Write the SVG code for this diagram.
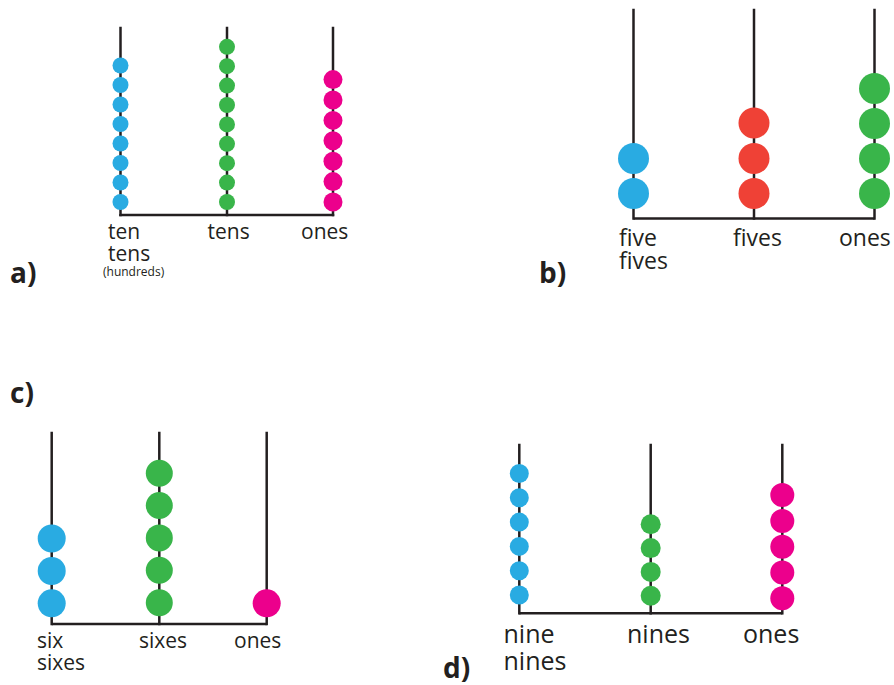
<svg xmlns="http://www.w3.org/2000/svg" width="894" height="685" viewBox="0 0 894 685">
  <style>
    .rod { stroke: #231f20; stroke-width: 2.5; fill: none; stroke-linecap: square; }
    .base { stroke: #231f20; stroke-width: 2.5; fill: none; }
    .blue { fill: #29abe2; }
    .green { fill: #39b54a; }
    .pink { fill: #ec008c; }
    .red { fill: #ef4136; }
    .lbl { font-family: "Open Sans", "Liberation Sans", sans-serif; fill: #231f20; }
    .tag { font-family: "Open Sans", "Liberation Sans", sans-serif; font-weight: bold; font-size: 28px; fill: #231f20; }
  </style>
  <rect width="894" height="685" fill="#ffffff"/>

  <!-- Panel a: ten tens / tens / ones -->
  <g id="panel-a">
    <g id="connectors-a">
      <polyline class="base" points="120.5,214 120.5,215 333,215 333,214"/>
    </g>
    <g id="a-tentens">
      <line class="rod" x1="120.5" y1="28" x2="120.5" y2="215"/>
      <g class="blue">
        <circle cx="120.5" cy="202" r="8"/><circle cx="120.5" cy="182.5" r="8"/>
        <circle cx="120.5" cy="163" r="8"/><circle cx="120.5" cy="143.5" r="8"/>
        <circle cx="120.5" cy="124" r="8"/><circle cx="120.5" cy="104.5" r="8"/>
        <circle cx="120.5" cy="85" r="8"/><circle cx="120.5" cy="65.5" r="8"/>
      </g>
      <text class="lbl" x="108" y="239" font-size="21">ten</text>
      <text class="lbl" x="108" y="261" font-size="21">tens</text>
      <text class="lbl" x="103" y="276" font-size="12">(hundreds)</text>
    </g>
    <g id="a-tens">
      <line class="rod" x1="227" y1="28" x2="227" y2="215"/>
      <g class="green">
        <circle cx="227" cy="202" r="8"/><circle cx="227" cy="182.6" r="8"/>
        <circle cx="227" cy="163.2" r="8"/><circle cx="227" cy="143.8" r="8"/>
        <circle cx="227" cy="124.4" r="8"/><circle cx="227" cy="105" r="8"/>
        <circle cx="227" cy="85.6" r="8"/><circle cx="227" cy="66.2" r="8"/>
        <circle cx="227" cy="46.8" r="8"/>
      </g>
      <text class="lbl" x="207.5" y="239" font-size="21">tens</text>
    </g>
    <g id="a-ones">
      <line class="rod" x1="333" y1="28" x2="333" y2="215"/>
      <g class="pink">
        <circle cx="333" cy="202" r="9.5"/><circle cx="333" cy="181.6" r="9.5"/>
        <circle cx="333" cy="161.2" r="9.5"/><circle cx="333" cy="140.8" r="9.5"/>
        <circle cx="333" cy="120.4" r="9.5"/><circle cx="333" cy="100" r="9.5"/>
        <circle cx="333" cy="79.6" r="9.5"/>
      </g>
      <text class="lbl" x="301" y="239" font-size="21">ones</text>
    </g>
    <text class="tag" x="10" y="283">a)</text>
  </g>

  <!-- Panel b: five fives / fives / ones -->
  <g id="panel-b">
    <g id="connectors-b">
      <polyline class="base" points="633.5,218.5 874.5,218.5"/>
    </g>
    <g id="b-fivefives">
      <line class="rod" x1="633.5" y1="10" x2="633.5" y2="218.5"/>
      <g class="blue">
        <circle cx="633.5" cy="193.5" r="15.5"/><circle cx="633.5" cy="158.5" r="15.5"/>
      </g>
      <text class="lbl" x="619" y="245.5" font-size="23">five</text>
      <text class="lbl" x="619" y="269" font-size="23">fives</text>
    </g>
    <g id="b-fives">
      <line class="rod" x1="754" y1="10" x2="754" y2="218.5"/>
      <g class="red">
        <circle cx="754" cy="193.5" r="15.5"/><circle cx="754" cy="158.5" r="15.5"/>
        <circle cx="754" cy="123" r="15.5"/>
      </g>
      <text class="lbl" x="733" y="245.5" font-size="23">fives</text>
    </g>
    <g id="b-ones">
      <line class="rod" x1="874.5" y1="10" x2="874.5" y2="218.5"/>
      <g class="green">
        <circle cx="874.5" cy="193.5" r="15.5"/><circle cx="874.5" cy="158.5" r="15.5"/>
        <circle cx="874.5" cy="123.5" r="15.5"/><circle cx="874.5" cy="88.5" r="15.5"/>
      </g>
      <text class="lbl" x="839" y="245.5" font-size="23">ones</text>
    </g>
    <text class="tag" x="539" y="283">b)</text>
  </g>

  <!-- Panel c: six sixes / sixes / ones -->
  <g id="panel-c">
    <g id="connectors-c">
      <polyline class="base" points="51.7,624 266.7,624"/>
    </g>
    <g id="c-sixsixes">
      <line class="rod" x1="51.7" y1="433" x2="51.7" y2="624"/>
      <g class="blue">
        <circle cx="51.7" cy="603.3" r="14"/><circle cx="51.7" cy="571" r="14"/>
        <circle cx="51.7" cy="538.5" r="14"/>
      </g>
      <text class="lbl" x="37" y="648.3" font-size="21">six</text>
      <text class="lbl" x="37" y="670" font-size="21">sixes</text>
    </g>
    <g id="c-sixes">
      <line class="rod" x1="159.3" y1="433" x2="159.3" y2="624"/>
      <g class="green">
        <circle cx="159.3" cy="602.7" r="13.5"/><circle cx="159.3" cy="570.3" r="13.5"/>
        <circle cx="159.3" cy="537.9" r="13.5"/><circle cx="159.3" cy="505.5" r="13.5"/>
        <circle cx="159.3" cy="473.3" r="13.5"/>
      </g>
      <text class="lbl" x="139" y="648.3" font-size="21">sixes</text>
    </g>
    <g id="c-ones">
      <line class="rod" x1="266.7" y1="433" x2="266.7" y2="624"/>
      <circle class="pink" cx="266.7" cy="603.3" r="14"/>
      <text class="lbl" x="234" y="648.3" font-size="21">ones</text>
    </g>
    <text class="tag" x="10" y="403">c)</text>
  </g>

  <!-- Panel d: nine nines / nines / ones -->
  <g id="panel-d">
    <g id="connectors-d">
      <polyline class="base" points="519.3,613.3 782.3,613.3"/>
    </g>
    <g id="d-ninenines">
      <line class="rod" x1="519.3" y1="445" x2="519.3" y2="613.3"/>
      <g class="blue">
        <circle cx="519.3" cy="595" r="9.5"/><circle cx="519.3" cy="570.7" r="9.5"/>
        <circle cx="519.3" cy="546.4" r="9.5"/><circle cx="519.3" cy="522.1" r="9.5"/>
        <circle cx="519.3" cy="497.8" r="9.5"/><circle cx="519.3" cy="473.5" r="9.5"/>
      </g>
      <text class="lbl" x="503.5" y="643.3" font-size="25">nine</text>
      <text class="lbl" x="503.5" y="670" font-size="25">nines</text>
    </g>
    <g id="d-nines">
      <line class="rod" x1="650.7" y1="445" x2="650.7" y2="613.3"/>
      <g class="green">
        <circle cx="650.7" cy="595.7" r="10"/><circle cx="650.7" cy="571.9" r="10"/>
        <circle cx="650.7" cy="548.1" r="10"/><circle cx="650.7" cy="524.3" r="10"/>
      </g>
      <text class="lbl" x="627" y="643.3" font-size="25">nines</text>
    </g>
    <g id="d-ones">
      <line class="rod" x1="782.3" y1="445" x2="782.3" y2="613.3"/>
      <g class="pink">
        <circle cx="782.3" cy="598.3" r="12"/><circle cx="782.3" cy="572.5" r="12"/>
        <circle cx="782.3" cy="546.7" r="12"/><circle cx="782.3" cy="520.9" r="12"/>
        <circle cx="782.3" cy="495.1" r="12"/>
      </g>
      <text class="lbl" x="743" y="643.3" font-size="25">ones</text>
    </g>
    <text class="tag" x="443" y="678">d)</text>
  </g>
</svg>
